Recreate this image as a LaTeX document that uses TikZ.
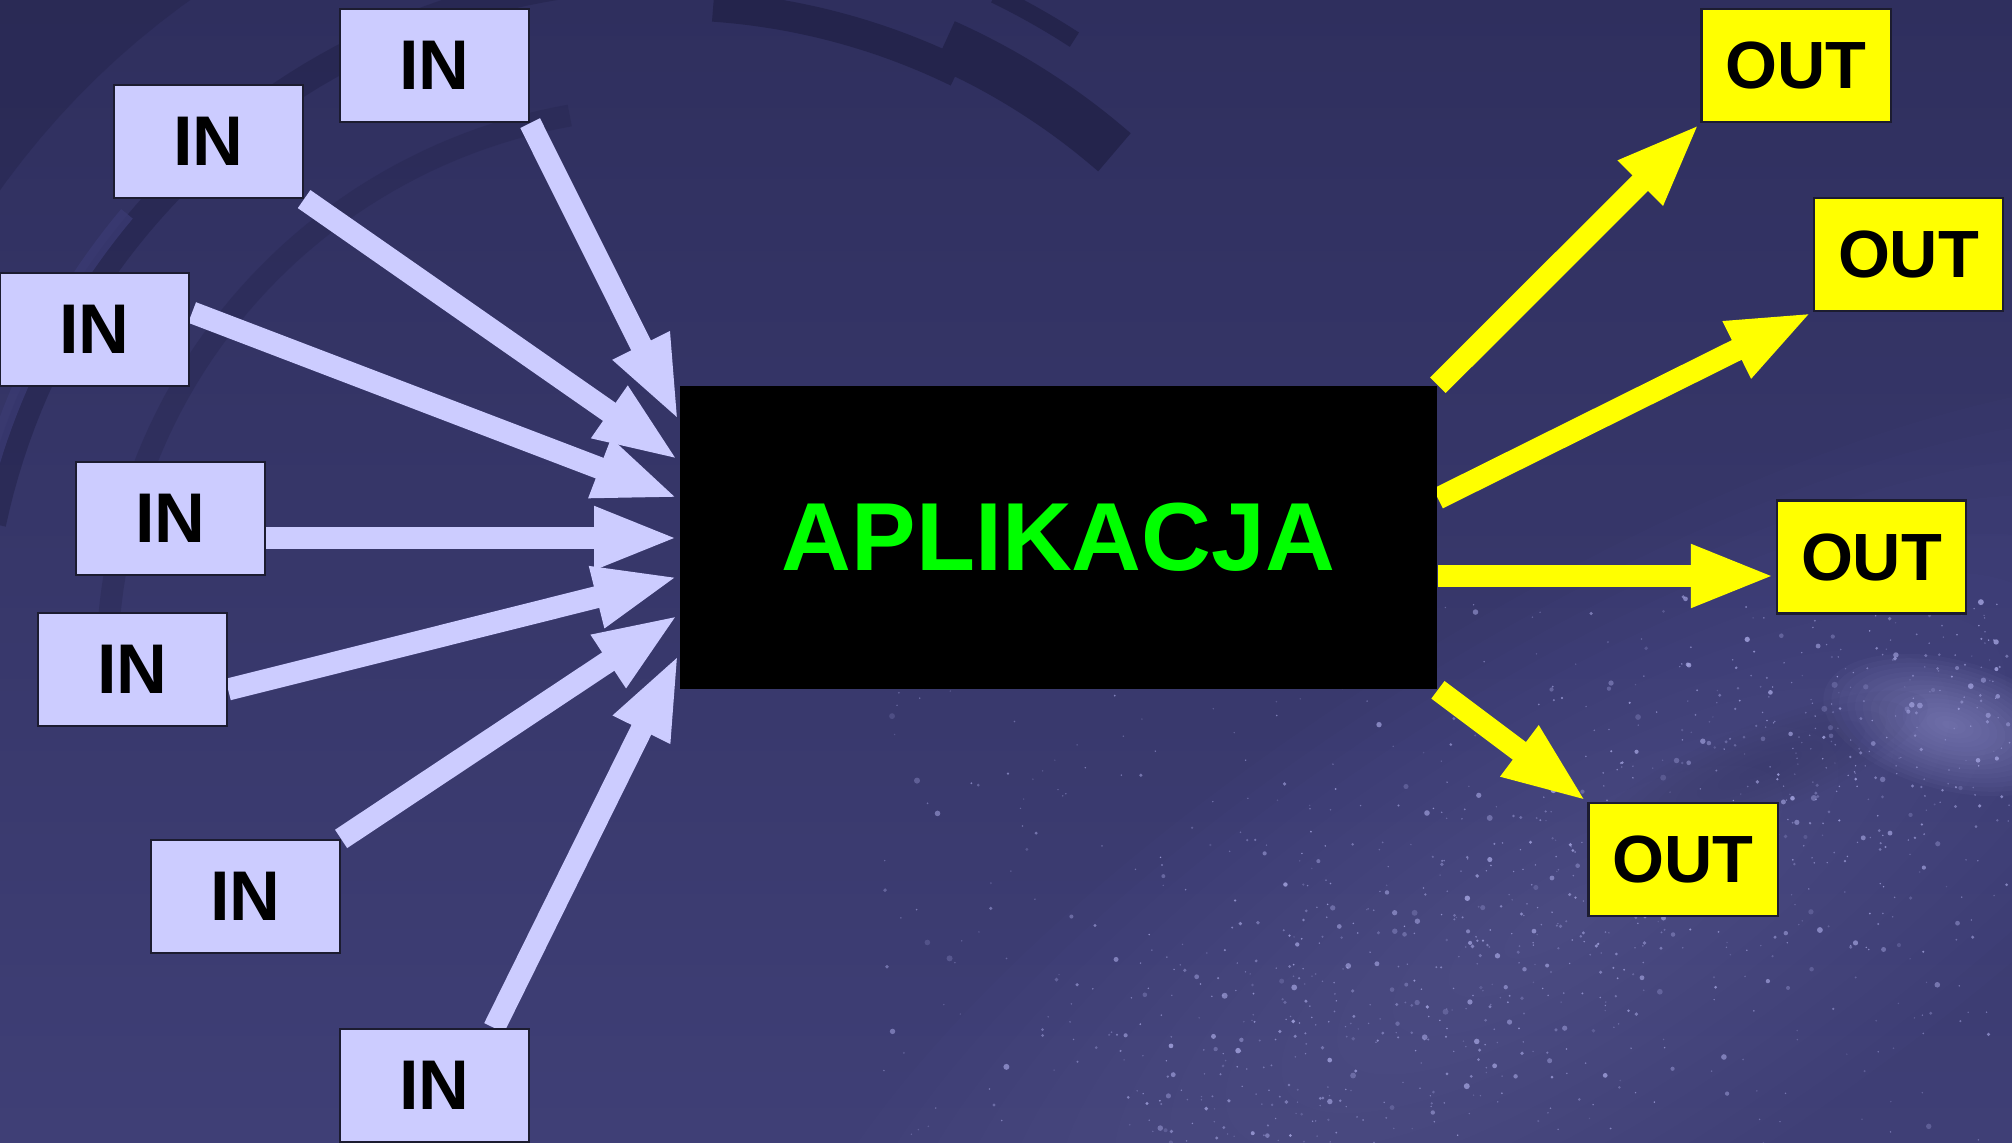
\documentclass[tikz,border=0pt]{standalone}
\usepackage{fontspec}
\setmainfont{Liberation Sans}
\usetikzlibrary{arrows.meta,calc,backgrounds}
\definecolor{bgtop}{HTML}{2F2F5E}
\definecolor{bgbot}{HTML}{3F3F76}
\definecolor{arcdark}{HTML}{24244C}
\definecolor{arclight}{HTML}{3A3A72}
\definecolor{inblue}{HTML}{CCCCFF}
\definecolor{outyel}{HTML}{FFFF00}
\definecolor{appgreen}{HTML}{00FF00}
\definecolor{starcol}{HTML}{A4A4E0}
\definecolor{glowcol}{HTML}{7272B4}
\definecolor{boxline}{HTML}{1C1C30}
\tikzset{
  inbox/.style={draw=boxline, line width=0.6pt, fill=inblue, minimum width=1.89cm,
    minimum height=1.13cm, inner sep=0pt, text=black,
    font=\fontsize{20}{20}\selectfont\bfseries},
  outbox/.style={inbox, fill=outyel, font=\fontsize{19}{19}\selectfont\bfseries},
  appbox/.style={fill=black, draw=none, minimum width=7.57cm, minimum height=3.03cm,
    inner sep=0pt, text=appgreen, font=\fontsize{27.5}{27.5}\selectfont\bfseries},
  inarrow/.style={draw=inblue, line width=0.22cm, -{Triangle[length=0.85cm,width=0.57cm]}},
  outarrow/.style={inarrow, draw=outyel},
  ringband/.style={draw=arcdark, line cap=butt},
}
\begin{document}
\begin{tikzpicture}[x=0.01cm,y=-0.01cm]
\useasboundingbox (0,0) rectangle (2012,1143);

% ---------- nodes ----------
\node[appbox] (app) at (1058.5,537.5) {APLIKACJA};

\node[inbox] (in1) at (434.5,65.5) {IN};
\node[inbox] (in2) at (208.5,141.5) {IN};
\node[inbox] (in3) at (94.5,329.5) {IN};
\node[inbox] (in4) at (170.5,518.5) {IN};
\node[inbox] (in5) at (132.5,669.5) {IN};
\node[inbox] (in6) at (245.5,896.5) {IN};
\node[inbox] (in7) at (434.5,1085.5) {IN};

\node[outbox] (out1) at (1796,65.5) {OUT};
\node[outbox] (out2) at (1908.5,254.5) {OUT};
\node[outbox] (out3) at (1871.5,557) {OUT};
\node[outbox] (out4) at (1683,859.5) {OUT};

\begin{scope}[on background layer]
% ---------- background ----------
\shade[top color=bgtop, bottom color=bgbot] (0,0) rectangle (2012,1143);
% darker upper-left region
\draw[arcdark, opacity=0.45, line width=1.6cm]
  plot[domain=-182:-88, samples=50] ({667+900*cos(\x)},{667+900*sin(\x)});
% ring segments
\draw[ringband, line width=0.30cm]
  plot[domain=-86:-64, samples=30] ({667+662*cos(\x)},{667+662*sin(\x)});
\draw[ringband, line width=0.50cm]
  plot[domain=-66:-49, samples=30] ({667+682*cos(\x)},{667+682*sin(\x)});
\draw[ringband, line width=0.17cm]
  plot[domain=-64:-57, samples=20] ({667+748*cos(\x)},{667+748*sin(\x)});
\draw[ringband, opacity=0.6, line width=0.28cm]
  plot[domain=-168:-96, samples=50] ({667+690*cos(\x)},{667+690*sin(\x)});
\draw[arclight, opacity=0.8, line width=0.15cm]
  plot[domain=-172:-140, samples=30] ({667+705*cos(\x)},{667+705*sin(\x)});
\draw[ringband, opacity=0.35, line width=0.22cm]
  plot[domain=-175:-100, samples=50] ({667+560*cos(\x)},{667+560*sin(\x)});
% milky way glow (stacked soft ellipses)
\foreach \k in {1,...,14}{
  \fill[glowcol, opacity=0.032, rotate around={32:(1560,920)}]
    (1560,920) ellipse ({900*\k/14} and {300*\k/14});
}
\foreach \k in {1,...,16}{
  \fill[starcol, opacity=0.045, rotate around={-15:(1950,725)}]
    (1950,725) ellipse ({130*\k/16} and {65*\k/16});
}
\foreach \k in {1,...,8}{
  \fill[bgtop, opacity=0.045, rotate around={22:(1760,770)}]
    (1760,770) ellipse ({180*\k/8} and {45*\k/8});
}
% stars
\pgfmathsetseed{4711}
\foreach \i in {1,...,900}{
  \pgfmathsetmacro{\t}{rnd}
  \pgfmathsetmacro{\s}{(rnd+rnd+rnd-1.5)*190}
  \pgfmathsetmacro{\sx}{1150+862*\t+0.497*\s}
  \pgfmathsetmacro{\sy}{1143-493*\t+0.868*\s}
  \pgfmathsetmacro{\sr}{0.8+2.2*rnd^4}
  \pgfmathsetmacro{\so}{0.25+0.6*rnd}
  \fill[starcol, opacity=\so] (\sx,\sy) circle[radius=\sr];
}
\foreach \i in {1,...,380}{
  \pgfmathsetmacro{\sx}{880+1132*rnd}
  \pgfmathsetmacro{\sy}{600+543*rnd}
  \pgfmathsetmacro{\sr}{0.8+2.4*rnd^5}
  \pgfmathsetmacro{\so}{0.2+0.5*rnd}
  \fill[starcol, opacity=\so] (\sx,\sy) circle[radius=\sr];
}

% ---------- connectors ----------
\draw[inarrow] (in1.south east) -- ($(app.west)+(0,-116)$);
\draw[inarrow] (in2.south east) -- ($(app.west)+(0,-77)$);
\draw[inarrow] ($(in3.east)+(2,-17)$) -- ($(app.west)+(0,-39)$);
\draw[inarrow] ($(in4.east)+(0,19.5)$) -- ($(app.west)+(0,0.5)$);
\draw[inarrow] ($(in5.east)+(0,20)$) -- ($(app.west)+(0,39)$);
\draw[inarrow] (in6.north east) -- ($(app.west)+(0,77)$);
\draw[inarrow] ($(in7.north east)+(-36,0)$) -- ($(app.west)+(0,116)$);

\draw[outarrow] (app.north east) -- (out1.south west);
\draw[outarrow] ($(app.east)+(0,-39)$) -- (out2.south west);
\draw[outarrow] ($(app.east)+(0,38.5)$) -- ($(out3.west)+(0,19)$);
\draw[outarrow] (app.south east) -- (out4.north west);
\end{scope}
\end{tikzpicture}
\end{document}
